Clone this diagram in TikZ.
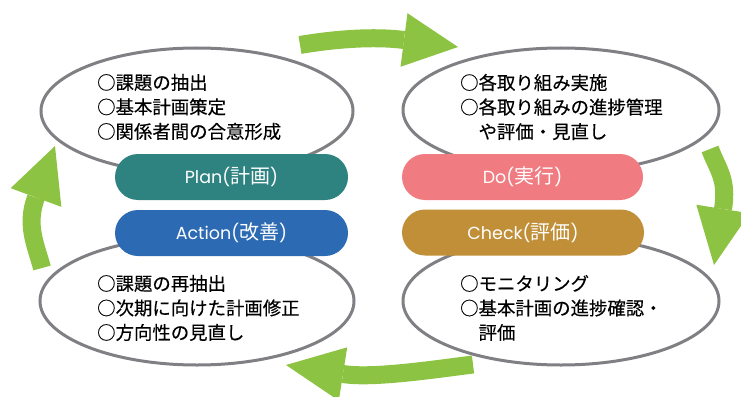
\documentclass[tikz,border=0pt]{standalone}
\usepackage{fontspec}
\setmainfont{Noto Sans CJK JP}[FakeBold=0.3]
\newfontfamily\cjklbl{Noto Sans CJK JP}
\newfontfamily\latlbl{Poppins}
\usetikzlibrary{shapes.geometric,calc}
\definecolor{arrowgreen}{RGB}{141,195,66}
\definecolor{ellgray}{RGB}{128,128,132}
\definecolor{planteal}{RGB}{46,130,128}
\definecolor{actblue}{RGB}{44,106,180}
\definecolor{dopink}{RGB}{240,124,130}
\definecolor{checkgold}{RGB}{192,143,56}
\newcommand\greenarrow[4]{%
  \coordinate (#3c) at ($(#3)!-30pt!(#4)$);
  \draw[band] (#1) .. controls (#2) and (#3c) .. (#3);
  \fill[arrowgreen] ($(#3)!27pt!90:(#4)$) -- (#4) -- ($(#3)!27pt!-90:(#4)$) -- cycle;}
\newcommand\pilllabel[2]{{\latlbl\fontsize{17.5}{20}\selectfont #1(}{\cjklbl\fontsize{20}{20}\selectfont #2}{\latlbl\fontsize{17.5}{20}\selectfont)}}
\begin{document}
\begin{tikzpicture}[x=1pt,y=-1pt,
  band/.style={draw=arrowgreen,line width=18pt,line cap=butt},
  ell/.style={ellipse,draw=ellgray,line width=3pt,fill=white,inner sep=0pt},
  pill/.style={rectangle,rounded corners=23pt,minimum height=46pt,text=white,inner sep=0pt},
  body/.style={anchor=west,align=left,inner sep=0pt,font=\fontsize{18.4}{24.5}\selectfont}]
\useasboundingbox (0,0) rectangle (741,396);
% arrows
\coordinate (ts) at (300,45); \coordinate (tc) at (335,39); \coordinate (tb) at (404,40); \coordinate (tt) at (458,47);
\coordinate (rs) at (710,149); \coordinate (rc) at (718,170); \coordinate (rb) at (723,209); \coordinate (rt) at (714,265);
\coordinate (bs) at (473,364.5); \coordinate (bc) at (433,369.5); \coordinate (bb) at (343,374); \coordinate (bt) at (286,365);
\coordinate (ls) at (42,268); \coordinate (lc) at (36,245); \coordinate (lb) at (36,197.5); \coordinate (lt) at (55,146);
\greenarrow{ts}{tc}{tb}{tt}
\greenarrow{rs}{rc}{rb}{rt}
\greenarrow{bs}{bc}{bb}{bt}
\greenarrow{ls}{lc}{lb}{lt}
% ellipses
\node[ell,minimum width=312pt,minimum height=126pt] (ptl) at (197,111) {};
\node[ell,minimum width=316pt,minimum height=124pt] (ptr) at (561,110) {};
\node[ell,minimum width=314pt,minimum height=128pt] (pbl) at (197,301) {};
\node[ell,minimum width=316pt,minimum height=128pt] (pbr) at (561,301) {};
% texts
\node[body] (xtl) at (97,107) {○課題の抽出\\○基本計画策定\\○関係者間の合意形成};
\node[body] (xtr) at (460,107) {○各取り組み実施\\○各取り組みの進捗管理\\\hspace*{1em}や評価・見直し};
\node[body] (xbl) at (97,308) {○課題の再抽出\\○次期に向けた計画修正\\○方向性の見直し};
\node[body] (xbr) at (460,308) {○モニタリング\\○基本計画の進捗確認・\\\hspace*{1em}評価};
% pills
\node[pill,fill=planteal,minimum width=233pt] (plan) at (231.5,177) {\pilllabel{Plan}{計画}};
\node[pill,fill=dopink,minimum width=241pt] (do) at (522.5,177) {\pilllabel{Do}{実行}};
\node[pill,fill=actblue,minimum width=233pt] (act) at (231.5,233) {\pilllabel{Action}{改善}};
\node[pill,fill=checkgold,minimum width=242pt] (chk) at (523,232.5) {\pilllabel{Check}{評価}};
\end{tikzpicture}
\end{document}
